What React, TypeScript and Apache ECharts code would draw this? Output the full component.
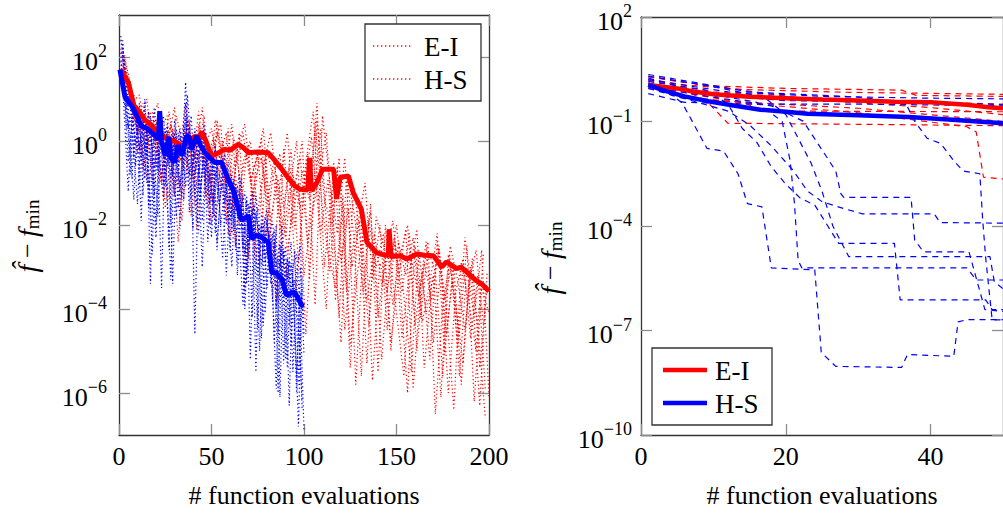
import React, { useEffect, useRef } from "react";
import * as echarts from "echarts";

const FONT = "Liberation Serif";
const RED = "#ff0000";
const BLUE = "#0000ff";

// ---------- ticks / labels ----------
const LEFT_X_TICKS = [0, 50, 100, 150, 200];
const LEFT_Y_DECADES = [-6, -4, -2, 0, 2];
const RIGHT_X_TICKS = [0, 20, 40];
const RIGHT_Y_DECADES = [-10, -7, -4, -1, 2];
const LEGEND_NAMES = ["E-I", "H-S"];
const X_NAME = "# function evaluations";

// ---------- left panel (values are log10 of f̂ − f_min) ----------
// thick mean curves: [evaluation, log10 value]
const EI_LEFT = [
  [0.5, 1.7], [3, 1.55], [5, 1.4], [8, 0.85], [11, 0.7], [14, 0.5], [17, 0.4], [19.5, 0.27], [23, 0.15],
  [26.5, 0.04], [30, 0.0], [33.9, -0.12], [37, -0.05], [41, 0.12], [43, 0.05], [44.7, 0.22], [47, 0.0],
  [50, -0.36], [53, -0.3], [57, -0.2], [60, -0.22], [64.5, -0.08], [67, -0.15], [70, -0.28], [75, -0.26],
  [80.7, -0.28], [84, -0.45], [88, -0.67], [91, -0.85], [95, -1.07], [98, -1.15], [102, -1.17], [103, -0.4],
  [104, -1.19], [107, -0.99], [110, -0.67], [116, -0.67], [117.6, -1.38], [119.5, -0.87], [124, -0.83],
  [126.6, -1.23], [131, -1.62], [134, -2.41], [139, -2.65], [142, -2.7], [145.6, -2.73], [146, -2.1],
  [147, -2.75], [152, -2.73], [155.5, -2.81], [161, -2.69], [165, -2.72], [170, -2.73], [174.4, -3.0],
  [177, -2.88], [182.5, -3.04], [185, -3.0], [188, -3.12], [193, -3.32], [196, -3.4], [200, -3.58],
];
const HS_LEFT = [
  [0.5, 1.7], [3.2, 1.06], [6.9, 0.83], [9, 0.65], [12.3, 0.35], [15, 0.3], [17.7, 0.2], [20, 0.1],
  [21.3, 0.04], [22, 0.71], [23, 0.0], [25, -0.36], [27, 0.1], [28, -0.4], [30, -0.51], [32, -0.1],
  [34, -0.35], [36.6, 0.12], [38, 0.1], [39.3, -0.2], [42, 0.12], [44, -0.1], [46.5, -0.28], [49, -0.4],
  [52, -0.51], [55.5, -0.51], [59, -0.91], [62, -1.2], [64.5, -1.6], [66, -1.86], [68, -1.84], [70, -1.78],
  [71.7, -2.33], [74, -2.25], [77, -2.29], [80.7, -2.41], [82.5, -3.12], [85, -3.15], [88, -3.28],
  [90.6, -3.68], [93, -3.62], [95, -3.6], [98.8, -3.91], [100, -3.93],
];

// individual E-I runs (every 4th evaluation, starting evaluation given)
const EI_RUN_STEP = 4;
const EI_RUN_STARTS = [1, 3, 2, 4, 1, 3, 2, 4];
const EI_RUN_1 = [
  2.2, 1.2, 0.4, 0.9, -0.5, 0.6, -0.8, 0.3, -1.2, 0.5, -0.4, 0.8, -1.5, 0.2, -0.9, 0.4, -2.0, -0.3, -1.4, 0.1,
  -2.5, -0.8, -1.6, -0.2, -2.9, -0.5, 0.7, -2.2, -0.9, -3.8, -1.5, -5.4, -2.0, -1.0, -3.3, -2.0, -4.5, -2.4, -3.6, -2.2,
  -5.0, -2.9, -3.8, -2.5, -4.6, -3.0, -5.8, -3.4, -2.6, -4.4,
];
const EI_RUN_2 = [
  2.0, 0.9, 1.1, -0.2, 0.5, -1.0, 0.7, -0.3, 0.2, -1.8, 0.4, -0.6, 0.1, -1.1, 0.3, -2.6, -0.5, 0.0, -1.7, -0.4,
  -3.2, -1.0, 0.2, -2.1, -0.7, -1.4, 0.9, -3.0, -1.2, -4.2, -0.8, -2.3, -5.6, -1.9, -3.0, -2.2, -4.8, -3.3, -2.1, -5.9,
  -3.5, -2.4, -6.5, -3.9, -2.8, -4.9, -2.3, -3.6, -6.3, -3.1,
];
const EI_RUN_3 = [
  1.8, 1.4, 0.2, 0.8, -0.9, 0.2, 0.6, -1.3, -0.1, 0.5, -2.1, -0.2, 0.3, -0.7, -1.9, 0.1, -1.1, -2.8, -0.6, 0.3,
  -1.9, -0.9, -3.4, -1.3, -0.4, -2.5, 0.4, -1.6, -3.1, -0.6, -4.5, -2.7, -1.4, -3.8, -2.5, -5.2, -3.0, -2.0, -3.7, -5.5,
  -2.6, -4.1, -3.2, -6.1, -2.7, -3.9, -5.3, -3.0, -4.4, -6.6,
];
const EI_RUN_4 = [
  1.5, 0.6, -0.4, 0.7, 0.1, -1.4, 0.4, -0.5, 0.9, -0.9, -0.2, -1.6, 0.5, -0.4, -2.3, -0.1, 0.4, -1.2, -2.9, -0.2,
  -1.0, -2.2, -0.6, -3.6, -1.1, 0.1, -1.8, -4.0, -0.5, -2.9, -1.6, -5.8, -2.4, -1.7, -4.2, -2.8, -1.9, -3.5, -6.0, -2.5,
  -4.3, -3.4, -2.2, -5.1, -3.3, -4.6, -2.5, -6.2, -3.5, -4.1,
];
const EI_RUN_5 = [
  2.4, 1.6, 0.8, -0.7, 0.4, 0.9, -1.6, 0.1, -0.5, 0.6, -1.2, -0.3, -2.0, 0.5, -0.8, -1.4, 0.2, -3.2, -1.0, -0.4,
  -1.5, -3.8, -0.2, -2.0, -1.0, -4.6, -1.5, 0.3, -2.6, -3.5, -1.3, -4.9, -3.1, -1.9, -5.7, -2.9, -3.6, -2.3, -4.7, -3.1,
  -2.1, -5.4, -3.4, -2.6, -4.0, -6.4, -2.9, -3.8, -5.0, -2.7,
];
const EI_RUN_6 = [
  1.9, 0.7, 0.2, 1.0, -0.6, 0.3, -1.4, 0.6, -0.2, -0.9, 0.7, -1.3, -0.1, 0.4, -2.2, -0.6, 0.2, -1.0, -0.3, -2.4,
  -0.9, -0.3, -2.7, -1.1, 0.0, -3.3, 0.5, -1.4, -2.0, -0.4, -3.6, -1.1, -2.6, -4.4, -1.8, -2.5, -5.0, -2.4, -3.2, -2.3,
  -4.2, -2.6, -3.1, -5.6, -2.5, -3.3, -4.5, -2.8, -5.4, -3.4,
];
const EI_RUN_7 = [
  2.1, 1.0, -0.3, 0.5, 0.7, -1.0, -0.1, 0.8, -1.9, 0.2, -0.5, 0.6, -1.4, -0.4, 0.2, -1.7, -0.9, -0.1, -3.0, -0.6,
  0.2, -1.3, -2.3, -0.8, -1.6, -0.3, -3.9, 0.6, -1.0, -2.2, -0.4, -3.0, -1.9, -5.3, -2.2, -3.4, -2.6, -4.1, -5.6, -2.8,
  -3.7, -2.4, -4.8, -3.0, -6.0, -3.6, -2.8, -4.7, -3.2, -5.9,
];
const EI_RUN_8 = [
  1.3, 1.1, 0.0, -1.1, 0.5, -0.3, 0.4, -2.4, 0.1, -0.6, 0.3, -0.5, -1.9, 0.0, -1.0, -0.2, -3.5, -0.8, -0.1, -1.5,
  -0.4, -2.6, -1.2, 0.0, -3.2, -1.8, -0.9, 0.2, -2.3, -4.8, -0.9, -2.0, -3.6, -1.5, -5.5, -2.0, -3.9, -2.7, -2.0, -4.4,
  -3.1, -5.2, -2.4, -3.8, -2.9, -5.6, -3.0, -4.2, -2.6, -6.1,
];

// individual H-S runs (every 2nd evaluation)
const HS_RUN_STEP = 2;
const HS_RUN_STARTS = [1, 2, 1, 2, 1, 2, 1, 2];
const HS_RUN_1 = [
  2.5, 1.4, 0.3, 1.0, -0.6, 0.7, -1.3, 0.4, -3.4, 0.2, -0.7, 0.5, -1.1, 0.1, -3.4, -0.3, 0.3, -1.4, 1.1, -0.2,
  -4.6, -0.5, 0.2, -1.0, -0.3, -1.8, -0.7, -0.2, -1.5, -0.9, -2.2, -1.4, -0.8, -2.6, -1.3, -5.2, -1.6, -2.0, -3.0, -1.8,
  -2.3, -3.8, -2.0, -6.1, -2.6, -3.3, -2.4, -4.3, -6.8, -3.2,
];
const HS_RUN_2 = [
  2.0, 0.8, 1.2, -0.4, 0.5, -1.9, 0.6, -0.8, -2.7, 0.3, -0.4, -1.3, 0.4, -0.9, 0.2, -1.6, -0.5, 1.4, -0.6, -2.1,
  0.0, -1.2, -0.3, -2.4, -0.8, -0.1, -1.3, -2.8, -0.9, -1.9, -1.1, -3.2, -1.7, -1.2, -2.5, -1.6, -5.5, -2.0, -2.7, -1.8,
  -3.4, -2.4, -6.0, -2.6, -3.1, -6.3, -3.0, -2.7, -4.1, -6.9,
];
const HS_RUN_3 = [
  1.9, 1.1, -0.5, 0.4, 0.8, -1.1, 0.2, -0.4, 0.6, -1.3, -0.2, -3.5, 0.3, -0.6, -0.1, -1.8, 0.1, -0.7, 0.5, -0.9,
  -0.2, -2.2, -0.6, 0.2, -1.5, -0.4, -2.6, -1.1, -0.3, -1.7, -3.0, -1.0, -1.9, -1.3, -3.4, -1.8, -2.4, -4.5, -1.7, -2.9,
  -2.2, -3.7, -5.9, -2.5, -3.4, -2.8, -4.9, -3.3, -3.9, -6.4,
];
const HS_RUN_4 = [
  2.2, 1.5, 0.1, -1.4, 0.6, 0.0, -0.9, 0.7, -0.3, -2.0, 0.5, -0.2, -1.2, -3.3, 0.0, -0.5, -1.4, 0.6, -0.8, -0.2,
  -1.9, -0.4, 0.4, -1.3, -2.3, -0.5, -1.2, -0.6, -2.0, -1.4, -0.9, -2.9, -1.5, -4.0, -1.9, -1.2, -2.6, -5.0, -2.1, -1.6,
  -3.1, -2.3, -4.6, -2.0, -3.6, -2.9, -5.5, -3.1, -2.5, -4.6,
];
const HS_RUN_5 = [
  2.1, 0.5, -1.2, 0.6, -0.1, 0.9, -0.6, 0.3, -1.7, 0.8, 0.0, -0.9, -0.1, -2.6, 0.2, -0.4, -1.1, 0.0, -0.5, -1.4,
  0.3, -0.7, -3.0, -0.4, -0.9, -1.5, -0.6, -2.0, -1.2, -0.5, -1.8, -1.1, -2.4, -3.9, -1.4, -2.1, -1.5, -3.2, -2.0, -4.1,
  -2.3, -1.9, -3.0, -2.4, -5.3, -2.8, -3.6, -2.6, -5.8, -3.5,
];
const HS_RUN_6 = [
  2.3, 1.2, -0.8, 0.9, 0.2, -0.5, 1.0, -1.6, 0.4, -0.6, 0.7, -1.0, 0.2, -2.0, 0.5, -0.4, 0.0, -1.1, 0.3, -0.7,
  -1.6, 0.1, -0.6, -1.3, -0.2, -2.2, -0.9, -0.4, -1.1, -2.6, -1.0, -1.8, -0.9, -3.6, -1.5, -2.3, -1.3, -2.9, -4.4, -1.9,
  -2.6, -2.1, -3.8, -2.4, -5.2, -2.8, -3.4, -6.0, -3.0, -5.1,
];
const HS_RUN_7 = [
  1.7, 0.9, 0.4, -0.9, 0.7, -0.2, 0.5, -1.0, 0.1, -0.4, -1.8, 0.6, -0.3, 0.1, -0.8, 0.3, -2.1, 0.4, -0.3, 0.6,
  -0.8, -0.2, -1.9, -0.4, -1.0, -0.3, -2.4, -1.2, -0.6, -1.6, -0.8, -2.5, -1.2, -1.7, -3.1, -1.4, -2.2, -1.6, -4.7, -2.1,
  -2.9, -2.2, -4.0, -2.7, -3.5, -5.4, -2.9, -3.7, -4.4, -6.2,
];
const HS_RUN_8 = [
  2.4, 0.3, 0.6, -0.3, -1.5, 0.4, -0.2, 0.5, -0.9, -2.3, 0.1, 0.6, -0.6, -0.2, -1.3, 0.2, -0.5, 0.9, -1.7, -0.3,
  -0.6, -1.4, 0.0, -0.9, -2.0, -0.7, -1.5, -1.0, -3.2, -1.3, -2.1, -1.1, -1.6, -2.7, -1.8, -4.2, -1.7, -2.5, -2.0, -3.5,
  -2.3, -4.8, -2.8, -3.2, -2.5, -4.4, -3.3, -5.6, -3.6, -4.2,
];

// ---------- right panel (best-so-far, log10) ----------
const EI_RIGHT = [
  [1, 0.05], [3, 0.0], [5, -0.05], [7, -0.13], [10, -0.22], [15, -0.29], [20, -0.33], [25, -0.37],
  [30, -0.4], [35, -0.43], [40, -0.45], [45, -0.52], [48, -0.59], [50, -0.62],
];
const HS_RIGHT = [
  [1, 0.05], [3, -0.1], [6, -0.28], [9.3, -0.42], [13, -0.55], [16.5, -0.66], [20, -0.72], [23, -0.78],
  [30, -0.82], [37, -0.87], [43, -0.95], [50, -1.05],
];
const EI_RIGHT_RUNS = [
  [[1, 0.3], [5, 0.15], [10, 0.02], [20, -0.05], [36, -0.1], [38, -0.25], [50, -0.28]],
  [[1, 0.22], [6, 0.05], [14, -0.08], [28, -0.16], [50, -0.22]],
  [[1, 0.1], [6, -0.1], [9, -0.4], [12, -1.05], [30, -1.08], [50, -1.12]],
  [[1, 0.05], [8, -0.25], [14, -0.45], [17, -0.7], [50, -0.72]],
  [[1, 0.18], [10, -0.15], [22, -0.32], [40, -0.45], [50, -0.5]],
  [[1, -0.05], [7, -0.32], [16, -0.5], [30, -0.75], [45, -1.15], [46.3, -1.3], [47.3, -2.6], [50, -2.65]],
  [[1, 0.28], [12, -0.05], [24, -0.38], [40, -0.6], [50, -0.8]],
  [[1, 0.0], [5, -0.3], [12, -0.42], [30, -0.62], [45, -0.9], [50, -1.0]],
];
const HS_RIGHT_RUNS = [
  [[1, 0.1], [4, -0.2], [5.7, -0.47], [9.1, -1.77], [11.4, -1.85], [13.4, -2.5], [14.7, -3.36], [16.7, -3.45],
   [17.7, -4.8], [18, -5.2], [24, -5.26], [24.9, -7.63], [26.9, -8.03], [36, -8.06], [36.8, -7.69], [43.2, -7.74],
   [43.8, -6.75], [45, -6.69], [50, -6.69]],
  [[1, 0.25], [8, -0.15], [16, -0.45], [19.5, -1.0], [20.6, -2.13], [21.2, -3.36], [21.7, -4.98], [22.2, -5.2],
   [45, -5.2], [46.3, -5.55], [50, -5.55]],
  [[1, 0.0], [10, -0.3], [18, -0.55], [22.4, -0.99], [24.2, -1.56], [26.9, -2.42], [27.6, -3.07], [28, -3.18],
   [37.3, -3.18], [37.8, -4.4], [39, -4.74], [45.3, -4.74], [47.5, -6.4], [50, -6.45]],
  [[1, 0.15], [9, -0.1], [12, -0.5], [14, -1.2], [16, -1.6], [18, -2.3], [20, -2.8], [22, -3.2], [24, -3.4],
   [27.3, -4.5], [35, -4.5], [35.8, -6.12], [47.6, -6.12], [48.5, -6.4], [50, -6.4]],
  [[1, -0.05], [7, -0.4], [12, -0.7], [15, -1.1], [18, -1.7], [21, -2.4], [23, -3.0], [25, -3.3], [28, -3.5],
   [30.6, -3.65], [40.5, -3.65], [41.3, -3.9], [50, -3.92]],
  [[1, 0.3], [10, 0.0], [17, -0.3], [20, -0.8], [22, -1.6], [23.5, -2.2], [25, -3.0], [26.5, -4.0], [28.7, -4.88],
   [48.2, -4.88], [48.8, -5.6], [50, -5.8]],
  [[1, 0.35], [15, -0.15], [30, -0.3], [36.5, -0.45], [37.8, -0.99], [39.5, -1.48], [41.4, -1.63], [43.2, -2.13],
   [44.5, -2.42], [46.8, -2.5], [47.2, -3.84], [47.6, -4.9], [48.5, -6.69], [50, -6.7]],
  [[1, 0.2], [12, -0.15], [25, -0.28], [40, -0.33], [50, -0.35]],
  [[1, -0.2], [6, -0.45], [15, -0.5], [30, -0.5], [50, -0.55]],
  [[1, 0.1], [10, -0.25], [20, -0.4], [35, -0.45], [48, -0.5], [50, -0.52]],
];

// ---------- helpers ----------
const runData = (vals: number[], start: number, step: number) => vals.map((v, i) => [start + i * step, v]);
const expLabel = (v: number) => `{b|10}{s|${v < 0 ? "\u2212" + Math.abs(v) : String(v)}}`;

const AXIS_LINE = { color: "#333", width: 1.3 };
const TICK_LINE = { color: "#8c8c8c", width: 1.3 };
const LABEL_RICH = {
  b: { fontSize: 26, fontFamily: FONT, color: "#000", lineHeight: 26, padding: [8, 0, 0, 0], verticalAlign: "middle" },
  s: { fontSize: 18, fontFamily: FONT, color: "#000", lineHeight: 18, padding: [0, 0, 12, 0], verticalAlign: "middle" },
};

function makeXAxes(gridIndex: number, min: number, max: number, ticks: number[]) {
  const common = {
    type: "value",
    gridIndex,
    min,
    max,
    axisLine: { show: true, onZero: false, lineStyle: AXIS_LINE },
    axisTick: { show: true, inside: true, length: 11, lineStyle: TICK_LINE, customValues: ticks },
    splitLine: { show: false },
  };
  return [
    {
      ...common,
      position: "bottom",
      axisLabel: { customValues: ticks, color: "#000", fontSize: 26, fontFamily: FONT, margin: 8 },
      name: X_NAME,
      nameLocation: "middle",
      nameGap: 47,
      nameTextStyle: { color: "#000", fontSize: 26, fontFamily: FONT },
    },
    { ...common, position: "top", axisLabel: { show: false } },
  ];
}

function makeYAxes(gridIndex: number, min: number, max: number, ticks: number[], margin: number) {
  const common = {
    type: "value",
    gridIndex,
    min,
    max,
    axisLine: { show: true, onZero: false, lineStyle: AXIS_LINE },
    axisTick: { show: true, inside: true, length: 11, lineStyle: TICK_LINE, customValues: ticks },
    splitLine: { show: false },
  };
  return [
    {
      ...common,
      position: "left",
      axisLabel: { customValues: ticks, formatter: expLabel, rich: LABEL_RICH, margin, fontFamily: FONT },
    },
    { ...common, position: "right", axisLabel: { show: false } },
  ];
}

const line = (data: number[][], color: string, width: number, type: any, xi: number, yi: number, z: number) => ({
  type: "line",
  data,
  xAxisIndex: xi,
  yAxisIndex: yi,
  symbol: "none",
  showSymbol: false,
  silent: true,
  z,
  lineStyle: { color, width, type },
});

function buildOption() {
  const series: any[] = [];
  const eiRuns = [EI_RUN_1, EI_RUN_2, EI_RUN_3, EI_RUN_4, EI_RUN_5, EI_RUN_6, EI_RUN_7, EI_RUN_8];
  const hsRuns = [HS_RUN_1, HS_RUN_2, HS_RUN_3, HS_RUN_4, HS_RUN_5, HS_RUN_6, HS_RUN_7, HS_RUN_8];
  eiRuns.forEach((r, i) => series.push(line(runData(r, EI_RUN_STARTS[i], EI_RUN_STEP), RED, 1.2, [1.2, 2.6], 0, 0, 2)));
  hsRuns.forEach((r, i) => series.push(line(runData(r, HS_RUN_STARTS[i], HS_RUN_STEP), BLUE, 1.2, [1.2, 2.6], 0, 0, 2)));
  series.push(line(EI_LEFT, RED, 5, "solid", 0, 0, 3));
  series.push(line(HS_LEFT, BLUE, 5, "solid", 0, 0, 4));

  EI_RIGHT_RUNS.forEach((r) => series.push(line(r, RED, 1.2, [6, 5], 2, 2, 2)));
  HS_RIGHT_RUNS.forEach((r) => series.push(line(r, BLUE, 1.2, [6, 5], 2, 2, 2)));
  series.push(line(EI_RIGHT, RED, 4.5, "solid", 2, 2, 3));
  series.push(line(HS_RIGHT, BLUE, 4.5, "solid", 2, 2, 4));

  const yName = (x: number, y: number) => ({
    type: "text",
    x,
    y,
    rotation: Math.PI / 2,
    z: 100,
    style: {
      text: "{i|f\u0302}{n| \u2212 }{i|f}{m|min}",
      align: "center",
      verticalAlign: "middle",
      fill: "#000",
      fontFamily: FONT,
      fontSize: 26,
      rich: {
        i: { fontSize: 28, fontFamily: FONT, fontStyle: "italic", color: "#000", lineHeight: 28 },
        n: { fontSize: 26, fontFamily: FONT, color: "#000", lineHeight: 26 },
        m: { fontSize: 19, fontFamily: FONT, color: "#000", lineHeight: 19, padding: [10, 0, 0, 0] },
      },
    },
  });

  const legendText = (x: number, y: number, text: string) => ({
    type: "text",
    x,
    y,
    z: 102,
    style: { text, fontSize: 27, fontFamily: FONT, fill: "#000", align: "left", verticalAlign: "middle" },
  });

  const graphic = [
    yName(27, 236),
    yName(550, 258),
    // left legend
    { type: "rect", z: 100, shape: { x: 365, y: 24, width: 116, height: 77 }, style: { fill: "#fff", stroke: "#333", lineWidth: 1.3 } },
    { type: "line", z: 101, shape: { x1: 373, y1: 46, x2: 413, y2: 46 }, style: { stroke: RED, lineWidth: 1.3, lineDash: [1.3, 2.7] } },
    { type: "line", z: 101, shape: { x1: 373, y1: 79, x2: 413, y2: 79 }, style: { stroke: RED, lineWidth: 1.3, lineDash: [1.3, 2.7] } },
    legendText(424, 47, LEGEND_NAMES[0]),
    legendText(424, 80, LEGEND_NAMES[1]),
    // right legend
    { type: "rect", z: 100, shape: { x: 652, y: 348, width: 120, height: 77 }, style: { fill: "#fff", stroke: "#333", lineWidth: 1.3 } },
    { type: "line", z: 101, shape: { x1: 663, y1: 370, x2: 707, y2: 370 }, style: { stroke: RED, lineWidth: 4.5 } },
    { type: "line", z: 101, shape: { x1: 663, y1: 403, x2: 707, y2: 403 }, style: { stroke: BLUE, lineWidth: 4.5 } },
    legendText(715, 371, LEGEND_NAMES[0]),
    legendText(715, 404, LEGEND_NAMES[1]),
  ];

  return {
    animation: false,
    backgroundColor: "#fff",
    textStyle: { fontFamily: FONT },
    grid: [
      { left: 119, top: 15, width: 370, height: 422 },
      { left: 641, top: 15, width: 370, height: 422 },
    ],
    xAxis: [...makeXAxes(0, 0, 200, LEFT_X_TICKS), ...makeXAxes(1, 0, 50, RIGHT_X_TICKS)],
    yAxis: [...makeYAxes(0, -7, 3, LEFT_Y_DECADES, 12), ...makeYAxes(1, -10, 2, RIGHT_Y_DECADES, 9)],
    series,
    graphic,
  };
}

export default function App() {
  const ref = useRef<HTMLDivElement>(null);
  useEffect(() => {
    if (!ref.current) return;
    const chart = echarts.init(ref.current, null, { renderer: "svg" });
    chart.setOption(buildOption() as any);
    return () => chart.dispose();
  }, []);
  return (
    <div
      ref={ref}
      style={{ position: "absolute", left: 0, top: 0, width: 1003, height: 513, background: "#fff" }}
    />
  );
}
